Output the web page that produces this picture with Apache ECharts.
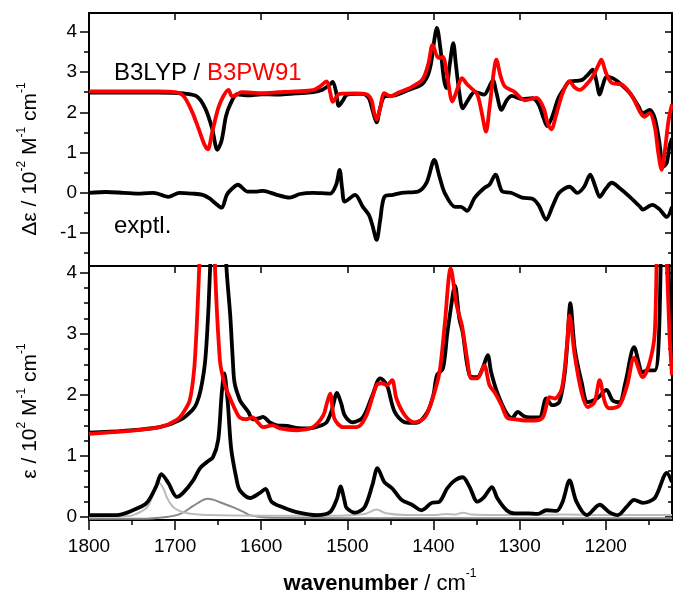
<!DOCTYPE html>
<html>
<head>
<meta charset="utf-8">
<script src="https://cdn.jsdelivr.net/npm/echarts@6/dist/echarts.min.js"></script>
<style>html,body{margin:0;padding:0;background:#fff}#main{width:673px;height:593px}</style>
</head>
<body>
<div id="main"></div>
<script>
// wavenumber range (cm-1), axis reversed
const X_MIN = 1123, X_MAX = 1800;
const xMajorTicks = [1800, 1700, 1600, 1500, 1400, 1300, 1200];
const xMinorTicks = [1750, 1650, 1550, 1450, 1350, 1250, 1150];
const topMajorTicks = [-1, 0, 1, 2, 3, 4];
const topMinorTicks = [-1.5, -0.5, 0.5, 1.5, 2.5, 3.5];
const botMajorTicks = [0, 1, 2, 3, 4];
const botMinorTicks = [0.25, 0.5, 0.75, 1.25, 1.5, 1.75, 2.25, 2.5, 2.75, 3.25, 3.5, 3.75];

// upper panel: VCD (delta epsilon), calc spectra offset by 2.5
const vcdB3LYP = [[1800,2.49],[1720,2.49],[1690,2.47],[1675,2.4],[1665,2.1],[1657,1.6],[1651,1.07],[1646,1.3],[1641,1.9],[1636,2.2],[1628,2.45],[1615,2.42],[1600,2.45],[1580,2.44],[1560,2.47],[1540,2.5],[1529,2.56],[1521,2.68],[1517,2.76],[1513,2.5],[1510,2.16],[1505,2.3],[1501,2.43],[1490,2.46],[1482,2.46],[1475,2.35],[1470,2.0],[1466,1.75],[1462,2.1],[1457,2.39],[1445,2.42],[1430,2.55],[1414,2.69],[1407,2.9],[1403,3.2],[1399,3.8],[1396,4.1],[1392,3.6],[1388,2.85],[1385,2.6],[1381,3.2],[1377,3.72],[1374,3.2],[1370,2.5],[1366,2.1],[1360,2.3],[1352,2.51],[1341,2.44],[1336,2.6],[1331,2.8],[1327,2.5],[1321,2.06],[1315,2.3],[1309,2.41],[1297,2.33],[1285,2.35],[1278,2.2],[1272,1.85],[1268,1.66],[1262,1.9],[1255,2.35],[1248,2.6],[1242,2.77],[1235,2.78],[1227,2.81],[1220,2.95],[1215,3.06],[1211,2.8],[1207,2.44],[1203,2.7],[1199,2.89],[1192,2.85],[1184,2.73],[1172,2.48],[1162,2.15],[1157,1.98],[1149,2.06],[1143,1.85],[1138,1.3],[1133,0.65],[1129,0.75],[1126,1.15],[1123,1.35]];
const vcdB3PW91 = [[1800,2.52],[1720,2.52],[1700,2.5],[1690,2.4],[1680,2.0],[1672,1.55],[1666,1.2],[1662,1.08],[1657,1.5],[1650,2.1],[1644,2.4],[1638,2.56],[1634,2.4],[1630,2.42],[1623,2.5],[1600,2.48],[1580,2.5],[1560,2.52],[1540,2.55],[1532,2.64],[1524,2.77],[1520,2.5],[1517,2.26],[1512,2.4],[1509,2.46],[1490,2.47],[1478,2.45],[1472,2.31],[1469,2.0],[1466,1.82],[1462,2.1],[1457,2.48],[1450,2.4],[1440,2.5],[1428,2.6],[1413,2.81],[1406,3.2],[1401,3.68],[1396,3.4],[1392,3.35],[1389,3.38],[1384,2.9],[1378,2.27],[1372,2.6],[1367,2.85],[1361,2.7],[1356,2.6],[1349,2.44],[1344,2.0],[1339,1.52],[1335,2.1],[1330,3.0],[1327,3.31],[1322,2.9],[1317,2.64],[1306,2.51],[1294,2.3],[1280,2.36],[1272,2.1],[1267,1.7],[1263,1.58],[1258,1.9],[1250,2.48],[1242,2.77],[1236,2.62],[1230,2.56],[1222,2.7],[1215,2.89],[1209,3.15],[1205,3.31],[1200,3.0],[1193,2.73],[1181,2.69],[1169,2.39],[1160,2.0],[1155,1.89],[1149,1.98],[1143,1.64],[1139,1.0],[1135,0.57],[1131,1.1],[1127,1.8],[1123,2.2]];
const vcdExpt = [[1800,0],[1780,0.02],[1760,0],[1740,-0.02],[1725,0],[1708,-0.1],[1695,0],[1680,-0.02],[1668,-0.05],[1660,-0.14],[1654,-0.25],[1646,-0.37],[1640,-0.05],[1634,0.1],[1627,0.2],[1616,0.03],[1605,0.03],[1598,0.05],[1582,-0.05],[1567,-0.12],[1555,-0.03],[1540,0],[1520,-0.02],[1513,0.2],[1509,0.57],[1506,0.1],[1503,-0.22],[1491,-0.05],[1482,-0.35],[1475,-0.55],[1471,-0.8],[1466,-1.17],[1462,-0.7],[1457,-0.1],[1447,-0.05],[1437,0],[1418,0.03],[1408,0.25],[1399,0.82],[1393,0.4],[1387,0],[1375,-0.35],[1368,-0.35],[1361,-0.45],[1352,-0.12],[1341,0.12],[1335,0.2],[1328,0.45],[1320,0.03],[1310,0.0],[1297,-0.12],[1285,-0.15],[1278,-0.3],[1269,-0.67],[1262,-0.35],[1254,0],[1242,0.15],[1233,0],[1225,0.15],[1218,0.45],[1212,0.15],[1207,-0.1],[1200,0.1],[1193,0.25],[1184,0.12],[1172,-0.1],[1160,-0.35],[1157,-0.42],[1146,-0.3],[1138,-0.4],[1129,-0.6],[1123,-0.35]];

// lower panel: IR (epsilon), calc spectra offset by ~1.4
const irB3LYP = [[1800,1.38],[1760,1.41],[1718,1.47],[1694,1.59],[1680,1.75],[1675,1.86],[1670,2.1],[1665,2.57],[1661,3.5],[1657,5],[1650,8],[1644,5],[1640,4.0],[1636,3.3],[1633,2.57],[1631,2.2],[1625,1.92],[1621,1.83],[1615,1.72],[1610,1.6],[1602,1.62],[1598,1.64],[1590,1.55],[1582,1.5],[1570,1.49],[1560,1.46],[1544,1.45],[1530,1.5],[1524,1.55],[1518,1.75],[1512,2.03],[1507,1.85],[1503,1.66],[1494,1.55],[1482,1.63],[1471,1.99],[1462,2.27],[1457,2.22],[1453,2.12],[1445,1.72],[1433,1.55],[1420,1.54],[1407,1.72],[1400,2.0],[1396,2.32],[1389,2.43],[1384,3.0],[1381,3.3],[1375,3.79],[1370,3.25],[1366,3.02],[1358,2.32],[1349,2.29],[1343,2.43],[1337,2.65],[1333,2.37],[1326,2.04],[1316,1.72],[1309,1.62],[1302,1.72],[1295,1.65],[1288,1.63],[1277,1.63],[1269,1.94],[1262,1.83],[1254,1.88],[1248,2.3],[1245,2.76],[1241,3.5],[1236,2.76],[1228,2.21],[1221,1.88],[1210,1.94],[1199,2.08],[1192,1.91],[1184,1.88],[1177,2.21],[1167,2.78],[1157,2.37],[1152,2.4],[1143,2.4],[1138,3.02],[1134,6],[1131,7],[1128,5],[1126,3.58],[1123,2.7]];
const irB3PW91 = [[1800,1.36],[1760,1.4],[1718,1.47],[1698,1.59],[1690,1.72],[1683,1.91],[1678,2.4],[1675,3.1],[1671,4.5],[1663,9],[1655,4.6],[1648,2.57],[1642,2.15],[1636,1.94],[1630,1.75],[1625,1.63],[1617,1.6],[1610,1.63],[1604,1.55],[1598,1.47],[1587,1.5],[1578,1.45],[1559,1.42],[1540,1.47],[1528,1.66],[1524,1.85],[1520,2.02],[1515,1.61],[1505,1.47],[1489,1.47],[1478,1.66],[1466,2.16],[1460,2.19],[1454,2.16],[1448,2.24],[1443,1.94],[1433,1.66],[1422,1.55],[1410,1.63],[1401,1.94],[1393,2.37],[1387,3.14],[1380,4.07],[1373,3.46],[1367,3.14],[1361,2.6],[1356,2.27],[1349,2.27],[1341,2.48],[1335,2.16],[1329,2.04],[1321,1.83],[1314,1.62],[1305,1.6],[1294,1.58],[1283,1.58],[1273,1.63],[1265,1.96],[1259,1.94],[1251,2.1],[1245,2.81],[1242,3.3],[1236,2.65],[1228,2.04],[1221,1.8],[1213,1.88],[1207,2.24],[1201,1.88],[1196,1.78],[1184,1.83],[1175,2.16],[1167,2.61],[1157,2.29],[1149,2.53],[1143,3.02],[1140,5],[1136,7],[1131,5],[1126,3.02],[1123,2.32]];
const irExpt = [[1800,0.03],[1768,0.03],[1749,0.11],[1733,0.23],[1722,0.5],[1716,0.7],[1708,0.56],[1698,0.33],[1691,0.39],[1679,0.6],[1671,0.8],[1663,0.9],[1656,0.98],[1650,1.26],[1646,2.0],[1643,2.35],[1639,1.9],[1635,1.13],[1629,0.64],[1625,0.44],[1613,0.31],[1602,0.39],[1595,0.46],[1588,0.25],[1575,0.16],[1559,0.08],[1535,0.03],[1520,0.08],[1512,0.3],[1508,0.5],[1503,0.25],[1501,0.15],[1491,0.07],[1480,0.16],[1471,0.52],[1465,0.8],[1457,0.57],[1448,0.47],[1437,0.28],[1425,0.2],[1414,0.11],[1402,0.23],[1393,0.25],[1384,0.47],[1375,0.6],[1366,0.65],[1358,0.49],[1349,0.25],[1341,0.33],[1332,0.49],[1326,0.31],[1315,0.11],[1306,0.06],[1290,0.06],[1279,0.05],[1269,0.11],[1257,0.1],[1250,0.25],[1242,0.6],[1234,0.25],[1222,0.03],[1207,0.2],[1196,0.08],[1186,0.03],[1176,0.16],[1167,0.28],[1157,0.23],[1143,0.31],[1129,0.72],[1123,0.57]];
const bandLight = [[1800,0.0],[1760,0.01],[1749,0.03],[1733,0.15],[1725,0.38],[1719,0.57],[1713,0.45],[1710,0.33],[1702,0.16],[1686,0.06],[1660,0.03],[1600,0.02],[1520,0.02],[1480,0.05],[1466,0.12],[1455,0.06],[1430,0.03],[1400,0.03],[1385,0.05],[1375,0.04],[1366,0.07],[1355,0.04],[1300,0.03],[1245,0.04],[1200,0.03],[1123,0.03]];
const bandDark = [[1800,-0.03],[1740,-0.03],[1710,0],[1694,0.05],[1679,0.18],[1670,0.26],[1663,0.3],[1655,0.28],[1648,0.24],[1633,0.16],[1620,0.08],[1613,0.03],[1595,-0.01],[1500,-0.02],[1123,-0.02]];

const FONT = '"Liberation Sans", Arial, sans-serif';
const RED = '#ff0000';
const LW = 3.8;

function xAx(grid, pos, ticks, len, inside, line, labels) {
  return {
    type: 'value', gridIndex: grid, position: pos, min: X_MIN, max: X_MAX, inverse: true,
    axisLine: { show: line, onZero: false, lineStyle: { color: '#000', width: 2 } },
    axisTick: ticks ? { show: true, inside: inside, length: len, customValues: ticks, lineStyle: { color: '#000', width: 1.5 } } : { show: false },
    axisLabel: labels ? { show: true, customValues: labels, formatter: v => String(v), margin: 17, color: '#000', fontSize: 19, fontFamily: FONT } : { show: false },
    splitLine: { show: false }
  };
}
function yAx(grid, pos, min, max, ticks, len, inside, line, labels) {
  return {
    type: 'value', gridIndex: grid, position: pos, min: min, max: max,
    axisLine: { show: line, onZero: false, lineStyle: { color: '#000', width: 2 } },
    axisTick: { show: true, inside: inside, length: len, customValues: ticks, lineStyle: { color: '#000', width: 1.5 } },
    axisLabel: labels ? { show: true, customValues: labels, formatter: v => String(v), margin: 12, color: '#000', fontSize: 19, fontFamily: FONT } : { show: false },
    splitLine: { show: false }
  };
}
function line(data, color, width, xi, yi) {
  return {
    type: 'line', data: data, xAxisIndex: xi, yAxisIndex: yi,
    showSymbol: false, smooth: 0.3, clip: true,
    lineStyle: { color: color, width: width }, z: 3
  };
}

const supRich = (size, lh) => ({
  n: { fontSize: size, fontFamily: FONT, fill: '#000', lineHeight: lh, verticalAlign: 'bottom' },
  b: { fontSize: size, fontWeight: 'bold', fontFamily: FONT, fill: '#000', lineHeight: lh, verticalAlign: 'bottom' },
  s: { fontSize: 12, fontFamily: FONT, fill: '#000', lineHeight: lh, verticalAlign: 'top' }
});

const chart = echarts.init(document.getElementById('main'));
chart.setOption({
  animation: false,
  grid: [
    { left: 89, right: 1, top: 13, height: 253 },
    { left: 89, right: 1, top: 266, height: 254 }
  ],
  xAxis: [
    xAx(0, 'bottom', null, 0, false, true, null),
    xAx(0, 'top', xMajorTicks, 7, true, true, null),
    xAx(1, 'bottom', xMajorTicks, 10, false, true, xMajorTicks),
    xAx(1, 'bottom', xMinorTicks, 5, false, false, null),
    xAx(1, 'top', xMajorTicks, 7, true, true, null)
  ],
  yAxis: [
    yAx(0, 'left', -1.82, 4.47, topMajorTicks, 9, false, true, topMajorTicks),
    yAx(0, 'left', -1.82, 4.47, topMinorTicks, 5, false, false, null),
    yAx(0, 'right', -1.82, 4.47, topMajorTicks, 7, true, true, null),
    yAx(0, 'right', -1.82, 4.47, topMinorTicks, 4, true, false, null),
    yAx(1, 'left', -0.05, 4.11, botMajorTicks, 9, false, true, botMajorTicks),
    yAx(1, 'left', -0.05, 4.11, botMinorTicks, 5, false, false, null),
    yAx(1, 'right', -0.05, 4.11, botMajorTicks, 7, true, true, null),
    yAx(1, 'right', -0.05, 4.11, botMinorTicks, 4, true, false, null)
  ],
  series: [
    line(vcdB3LYP, '#000', LW, 0, 0),
    line(vcdB3PW91, RED, LW, 0, 0),
    line(vcdExpt, '#000', LW, 0, 0),
    line(bandDark, '#888', 2, 2, 4),
    line(bandLight, '#bbb', 2, 2, 4),
    line(irExpt, '#000', LW, 2, 4),
    line(irB3LYP, '#000', LW, 2, 4),
    line(irB3PW91, RED, LW, 2, 4)
  ],
  graphic: [
    { type: 'text', x: 114, y: 73, style: { text: '{k|B3LYP / }{r|B3PW91}', verticalAlign: 'middle', rich: { k: { fill: '#000', fontSize: 24, fontFamily: FONT }, r: { fill: RED, fontSize: 24, fontFamily: FONT } } } },
    { type: 'text', x: 114, y: 226, style: { text: 'exptl.', fill: '#000', fontSize: 24, fontFamily: FONT, verticalAlign: 'middle' } },
    { type: 'text', x: 28, y: 159, rotation: Math.PI / 2, style: { text: '{n|Δε / 10}{s|-2}{n| M}{s|-1}{n| cm}{s|-1}', align: 'center', verticalAlign: 'middle', rich: supRich(21, 25) } },
    { type: 'text', x: 28, y: 411, rotation: Math.PI / 2, style: { text: '{n|ε / 10}{s|2}{n| M}{s|-1}{n| cm}{s|-1}', align: 'center', verticalAlign: 'middle', rich: supRich(21, 25) } },
    { type: 'text', x: 380, y: 581, style: { text: '{b|wavenumber}{n| / cm}{s|-1}', align: 'center', verticalAlign: 'middle', rich: supRich(22, 27) } }
  ]
});
</script>
</body>
</html>
